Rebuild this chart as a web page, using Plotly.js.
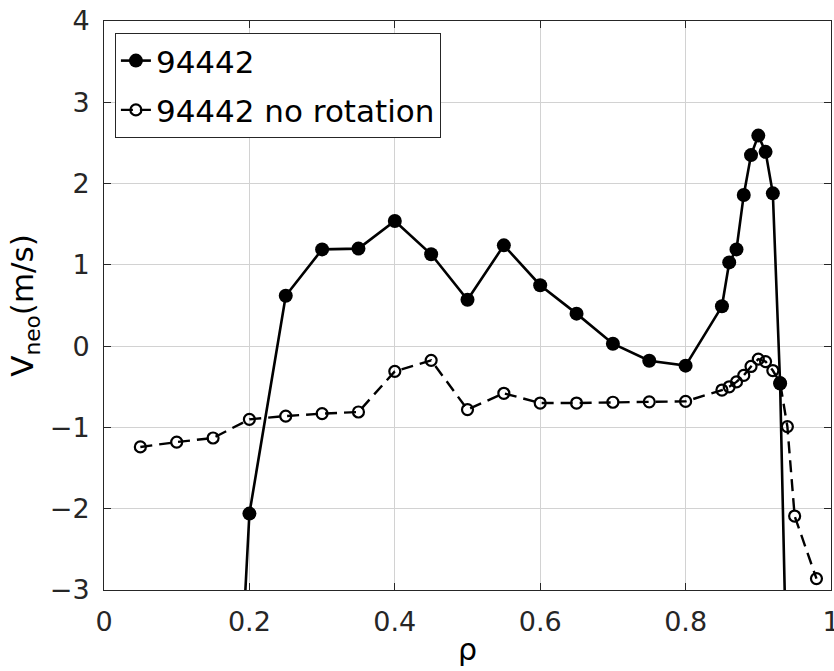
<!DOCTYPE html>
<html>
<head>
<meta charset="utf-8">
<script src="https://cdn.plot.ly/plotly-3.0.1.min.js"></script>
<style>
  html, body { margin: 0; padding: 0; background: #ffffff; overflow: hidden; }
  #chart { width: 834px; height: 671px; }
</style>
</head>
<body>
<div id="chart"></div>
<script>
// Normalised radius rho and neoclassical velocity (m/s)
const rhoRot = [0.15, 0.20, 0.25, 0.30, 0.35, 0.40, 0.45, 0.50, 0.55, 0.60, 0.65, 0.70, 0.75, 0.80,
                0.85, 0.86, 0.87, 0.88, 0.89, 0.90, 0.91, 0.92, 0.93, 0.94];
const vRot   = [-10.6, -2.06, 0.62, 1.19, 1.20, 1.54, 1.13, 0.57, 1.24, 0.75, 0.40, 0.03, -0.18, -0.24,
                0.49, 1.03, 1.19, 1.86, 2.35, 2.59, 2.39, 1.88, -0.46, -4.5];

const rhoNoRot = [0.05, 0.10, 0.15, 0.20, 0.25, 0.30, 0.35, 0.40, 0.45, 0.50, 0.55, 0.60, 0.65, 0.70, 0.75, 0.80,
                  0.85, 0.86, 0.87, 0.88, 0.89, 0.90, 0.91, 0.92, 0.93, 0.94, 0.95, 0.98];
const vNoRot   = [-1.24, -1.18, -1.13, -0.90, -0.86, -0.83, -0.81, -0.31, -0.175, -0.78, -0.58, -0.70, -0.70, -0.69, -0.685, -0.68,
                  -0.54, -0.50, -0.44, -0.36, -0.25, -0.16, -0.19, -0.30, -0.45, -0.99, -2.09, -2.86];

const seriesNames = ['94442', '94442 no rotation'];
const xTicks = [0, 0.2, 0.4, 0.6, 0.8, 1];
const xTickText = ['0', '0.2', '0.4', '0.6', '0.8', '1'];
const yTicks = [-3, -2, -1, 0, 1, 2, 3, 4];
const yTickText = ['\u22123', '\u22122', '\u22121', '0', '1', '2', '3', '4'];

const FONT = 'DejaVu Sans, sans-serif';
const INK = '#000000';
const AXIS = '#262626';

const traces = [
  {
    x: rhoRot, y: vRot, name: seriesNames[0], type: 'scatter', mode: 'lines+markers',
    legendgroup: 'a',
    line: { color: INK, width: 2.6 },
    marker: { symbol: 'circle', size: 14, color: INK },
    cliponaxis: true
  },
  {
    x: rhoNoRot, y: vNoRot, name: seriesNames[1], type: 'scatter', mode: 'lines+markers',
    legendgroup: 'b',
    line: { color: INK, width: 2.4, dash: '12px,7px' },
    marker: { symbol: 'circle-open', size: 11, color: INK, line: { width: 2.2, color: INK } },
    cliponaxis: true
  }
];

const axisCommon = {
  showline: true, linecolor: AXIS, linewidth: 1, mirror: 'ticks',
  ticks: 'inside', ticklen: 7, tickwidth: 1, tickcolor: AXIS,
  showgrid: true, gridcolor: '#d2d2d2', gridwidth: 1,
  zeroline: false,
  ticklabeloverflow: 'allow',
  tickfont: { family: FONT, size: 27, color: '#262626' }
};

const layout = {
  width: 834, height: 671,
  margin: { l: 104, r: 3, t: 21, b: 81 },
  paper_bgcolor: '#ffffff', plot_bgcolor: '#ffffff',
  showlegend: true,
  legend: {
    x: 0.015, y: 0.979, xanchor: 'left', yanchor: 'top',
    bgcolor: '#ffffff', bordercolor: AXIS, borderwidth: 1,
    font: { family: FONT, size: 31, color: INK },
    traceorder: 'grouped', tracegroupgap: 6,
    itemwidth: 30
  },
  xaxis: Object.assign({}, axisCommon, {
    range: [0, 1], tickvals: xTicks, ticktext: xTickText,
    ticklabelstandoff: 8,
    title: { text: '\u03c1', font: { family: FONT, size: 30, color: INK }, standoff: 2 }
  }),
  yaxis: Object.assign({}, axisCommon, {
    range: [-3, 4], tickvals: yTicks, ticktext: yTickText,
    ticklabelstandoff: 8,
    title: { text: 'V<sub>neo</sub>(m/s)', font: { family: FONT, size: 31, color: INK }, standoff: 6 }
  })
};

Plotly.newPlot('chart', traces, layout, { displayModeBar: false, staticPlot: true });
</script>
</body>
</html>
